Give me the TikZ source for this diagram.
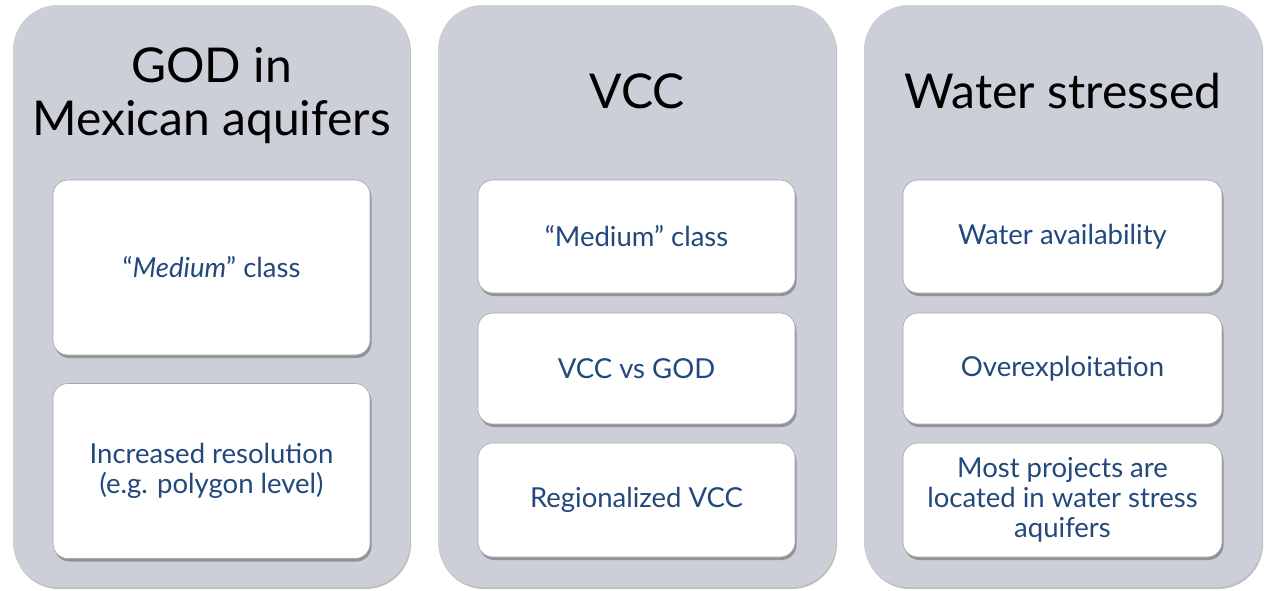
\documentclass[tikz,border=0pt]{standalone}
\usepackage{fontspec}
\setmainfont{Lato}
\usetikzlibrary{shadows}
\definecolor{panelfill}{RGB}{204,207,216}
\definecolor{boxtext}{RGB}{34,72,124}
\definecolor{boxedge}{RGB}{165,166,172}
\tikzset{
  panel/.style={rectangle, rounded corners=45pt, fill=panelfill, inner sep=0pt,
    drop shadow={shadow xshift=1pt, shadow yshift=-2pt, opacity=0.25, fill=black}},
  card/.style={rectangle, rounded corners=15pt, fill=white, draw=boxedge, line width=0.6pt,
    inner sep=0pt, text=boxtext, align=center, font=\fontsize{27.5}{30}\selectfont,
    drop shadow={shadow xshift=1.5pt, shadow yshift=-3pt, opacity=0.45, fill=black!70}},
  ttl/.style={anchor=base, inner sep=0pt, text=black, font=\fontsize{48}{53}\selectfont}
}
\begin{document}
\begin{tikzpicture}[x=1pt,y=-1pt]
\useasboundingbox (0,0) rectangle (1275,590);
% panels
\node[panel, minimum width=397pt, minimum height=582pt] (p1) at (211.5,296) {};
\node[panel, minimum width=398pt, minimum height=582pt] (p2) at (637,296) {};
\node[panel, minimum width=398pt, minimum height=582pt] (p3) at (1063,296) {};
% titles
\node[ttl] (t1a) at (211.5,82) {GOD in};
\node[ttl] (t1b) at (211.5,135) {Mexican aquifers};
\node[ttl] (t2) at (637,108) {VCC};
\node[ttl] (t3) at (1063,108) {Water stressed};
% panel 1 cards
\node[card, minimum width=317pt, minimum height=175pt] (a1) at (211.5,267.5) {\raisebox{-2pt}{``\textit{Medium}'' class}};
\node[card, minimum width=317pt, minimum height=175pt] (a2) at (211.5,471) {Increased resolution\\(e.g. polygon level)};
% panel 2 cards
\node[card, minimum width=317pt, minimum height=113pt] (b1) at (636.5,236.5) {\raisebox{-2pt}{``Medium'' class}};
\node[card, minimum width=317pt, minimum height=111pt] (b2) at (636.5,368.5) {\raisebox{-2pt}{VCC vs GOD}};
\node[card, minimum width=317pt, minimum height=114pt] (b3) at (636.5,500) {\raisebox{-2pt}{Regionalized VCC}};
% panel 3 cards
\node[card, minimum width=319pt, minimum height=113pt] (c1) at (1062.5,236.5) {\raisebox{-2pt}{Water availability}};
\node[card, minimum width=319pt, minimum height=111pt] (c2) at (1062.5,368.5) {\raisebox{-2pt}{Overexploitation}};
\node[card, minimum width=319pt, minimum height=114pt] (c3) at (1062.5,500) {Most projects are\\located in water stress\\aquifers};
\end{tikzpicture}
\end{document}
